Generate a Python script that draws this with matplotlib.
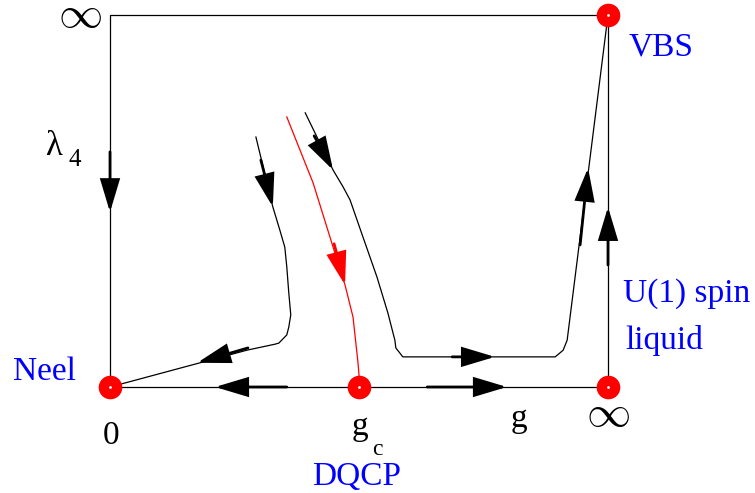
import matplotlib
matplotlib.use("Agg")
import matplotlib.pyplot as plt
from matplotlib.patches import FancyArrowPatch

# coupling g (0 .. infinity -> 0 .. 1) and lambda_4 (0 .. infinity -> 0 .. 1)
g_c = 0.5

# fixed points
fp_g = [0.0, g_c, 1.0, 1.0]
fp_l = [0.0, 0.0, 0.0, 1.0]

# box (flow along the axes)
box_g = [0.0, 0.0, 1.0, 1.0, 0.0]
box_l = [0.0, 1.0, 1.0, 0.0, 0.0]

# flow lines
left_g = [0.293, 0.327, 0.341, 0.351, 0.355, 0.359, 0.363, 0.359, 0.355, 0.339, 0.331, 0.275, 0.0]
left_l = [0.672, 0.484, 0.422, 0.376, 0.323, 0.253, 0.194, 0.161, 0.140, 0.118, 0.115, 0.099, 0.0]

red_g = [0.355, 0.408, 0.448, 0.472, 0.488, 0.498, 0.502]
red_l = [0.726, 0.548, 0.376, 0.274, 0.188, 0.065, 0.0]

right_g = [0.392, 0.448, 0.468, 0.482, 0.508, 0.536, 0.558, 0.572, 0.574, 0.588, 0.894, 0.910, 0.918, 1.0]
right_l = [0.737, 0.583, 0.538, 0.503, 0.403, 0.296, 0.199, 0.126, 0.105, 0.081, 0.081, 0.099, 0.126, 1.0]

# arrows: (shaft start, tip, colour)
arrows = [
    ((0.0, 0.632), (0.0, 0.470), "k"),
    ((0.355, 0.0), (0.211, 0.0), "k"),
    ((0.637, 0.0), (0.797, 0.0), "k"),
    ((1.0, 0.328), (1.0, 0.484), "k"),
    ((0.277, 0.105), (0.175, 0.065), "k"),
    ((0.303, 0.610), (0.327, 0.484), "k"),
    ((0.410, 0.675), (0.448, 0.583), "k"),
    ((0.450, 0.385), (0.472, 0.274), "r"),
    ((0.687, 0.081), (0.773, 0.081), "k"),
    ((0.944, 0.382), (0.960, 0.589), "k"),
]

fig = plt.figure(figsize=(7.55, 4.93), dpi=100)
ax = fig.add_axes([0, 0, 1, 1])
ax.set_xlim(-110 / 498, 645 / 498)
ax.set_ylim(-106 / 372, 387 / 372)
ax.axis("off")

ax.plot(box_g, box_l, color="k", lw=0.9)
ax.plot(left_g, left_l, color="k", lw=0.9)
ax.plot(right_g, right_l, color="k", lw=0.9)
ax.plot(red_g, red_l, color="red", lw=0.9)

for start, tip, c in arrows:
    a = FancyArrowPatch(start, tip, arrowstyle="-|>,head_length=2.0,head_width=0.6",
                        mutation_scale=10, lw=2.0, color=c, shrinkA=0, shrinkB=0,
                        joinstyle="miter", zorder=3)
    ax.add_patch(a)

ax.plot(fp_g, fp_l, "o", color="red", ms=17, mec="none", zorder=4)
ax.plot(fp_g, fp_l, "o", color="white", ms=2, mec="none", zorder=5)

serif = "Liberation Serif"
ax.text(-0.060, 1.0, r"$\infty$", fontsize=32, math_fontfamily="cm", ha="center", va="center")
ax.text(1.0, -0.072, r"$\infty$", fontsize=32, math_fontfamily="cm", ha="center", va="center")
ax.text(-0.131, 0.624, "\u03bb", fontsize=25, family=serif, ha="left", va="baseline")
ax.text(-0.084, 0.594, "4", fontsize=18, family=serif, ha="left", va="baseline")
ax.text(0.002, -0.153, "0", fontsize=24, family=serif, ha="center", va="baseline")
ax.text(0.486, -0.129, "g", fontsize=24, family=serif, ha="left", va="baseline")
ax.text(0.526, -0.183, "c", fontsize=17, family=serif, ha="left", va="baseline")
ax.text(0.821, -0.108, "g", fontsize=24, family=serif, ha="center", va="baseline")

blue = "#0000ff"
ax.text(-0.195, 0.019, "Neel", fontsize=24, family=serif, color=blue, ha="left", va="baseline")
ax.text(0.406, -0.263, "DQCP", fontsize=24, family=serif, color=blue, ha="left", va="baseline")
ax.text(1.042, 0.892, "VBS", fontsize=24, family=serif, color=blue, ha="left", va="baseline")
ax.text(1.030, 0.228, "U(1) spin", fontsize=24, family=serif, color=blue, ha="left", va="baseline")
ax.text(1.034, 0.102, "liquid", fontsize=24, family=serif, color=blue, ha="left", va="baseline")

fig.savefig("out.png", dpi=100)
